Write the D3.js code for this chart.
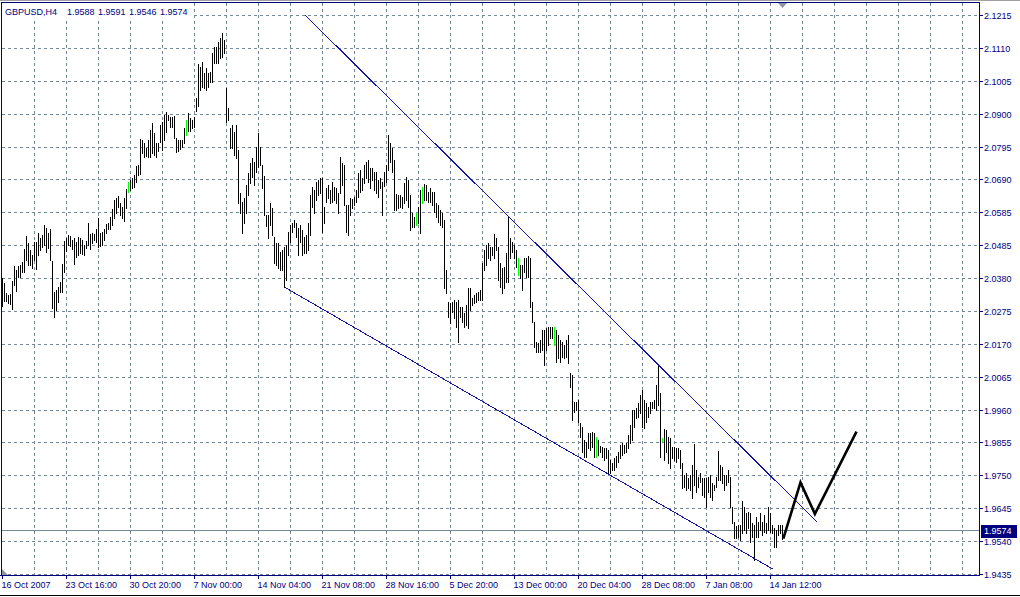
<!DOCTYPE html>
<html><head><meta charset="utf-8">
<script src="https://cdn.jsdelivr.net/npm/d3@7"></script>
<style>
body{margin:0;background:#fff;overflow:hidden;}
svg{display:block;}
text{font-family:"Liberation Sans",Arial,sans-serif;font-size:9px;fill:#000080;}
</style>
</head><body><svg id="c" width="1020" height="597"></svg>
<script>
const symbol = "GBPUSD,H4";
const quote = ["1.9588","1.9591","1.9546","1.9574"];
const lastPrice = 1.9574;

const highs = [
2.0378,2.0362,2.0330,2.0323,2.0327,2.0368,2.0416,2.0403,2.0416,2.0419,
2.0429,2.0470,2.0511,2.0489,2.0467,2.0451,2.0492,2.0492,2.0521,2.0505,
2.0514,2.0546,2.0537,2.0521,2.0534,2.0432,2.0333,2.0339,2.0349,2.0365,
2.0422,2.0495,2.0505,2.0514,2.0511,2.0499,2.0505,2.0492,2.0508,2.0505,
2.0499,2.0483,2.0495,2.0553,2.0518,2.0521,2.0518,2.0534,2.0569,2.0521,
2.0524,2.0534,2.0550,2.0553,2.0572,2.0597,2.0626,2.0632,2.0639,2.0616,
2.0604,2.0632,2.0661,2.0683,2.0690,2.0696,2.0706,2.0734,2.0737,2.0820,
2.0817,2.0808,2.0792,2.0817,2.0849,2.0871,2.0839,2.0808,2.0808,2.0865,
2.0874,2.0897,2.0906,2.0897,2.0890,2.0890,2.0894,2.0823,2.0817,2.0817,
2.0817,2.0855,2.0881,2.0903,2.0887,2.0881,2.0890,2.0951,2.1059,2.1050,
2.1065,2.1030,2.1046,2.1030,2.1034,2.1094,2.1113,2.1113,2.1129,2.1142,
2.1158,2.1135,2.0983,2.0919,2.0855,2.0865,2.0843,2.0865,2.0785,2.0648,
2.0620,2.0632,2.0674,2.0712,2.0744,2.0760,2.0747,2.0795,2.0839,2.0795,
2.0737,2.0702,2.0578,2.0578,2.0616,2.0600,2.0508,2.0489,2.0489,2.0460,
2.0467,2.0476,2.0483,2.0524,2.0546,2.0553,2.0562,2.0553,2.0537,2.0546,
2.0530,2.0508,2.0514,2.0553,2.0642,2.0667,2.0658,2.0683,2.0690,2.0696,
2.0696,2.0604,2.0664,2.0674,2.0658,2.0683,2.0667,2.0664,2.0648,2.0763,
2.0744,2.0737,2.0610,2.0610,2.0632,2.0629,2.0636,2.0658,2.0712,2.0722,
2.0696,2.0737,2.0747,2.0753,2.0728,2.0728,2.0715,2.0715,2.0690,2.0696,
2.0683,2.0715,2.0737,2.0833,2.0808,2.0792,2.0753,2.0645,2.0642,2.0642,
2.0636,2.0680,2.0699,2.0690,2.0642,2.0585,2.0572,2.0585,2.0604,2.0658,
2.0667,2.0677,2.0674,2.0651,2.0664,2.0651,2.0651,2.0616,2.0610,2.0594,
2.0585,2.0562,2.0403,2.0301,2.0298,2.0301,2.0308,2.0301,2.0308,2.0285,
2.0285,2.0266,2.0292,2.0346,2.0346,2.0314,2.0323,2.0330,2.0333,2.0339,
2.0425,2.0467,2.0483,2.0489,2.0476,2.0476,2.0518,2.0505,2.0476,2.0425,
2.0409,2.0413,2.0457,2.0572,2.0505,2.0492,2.0483,2.0467,2.0441,2.0419,
2.0419,2.0441,2.0441,2.0448,2.0441,2.0301,2.0237,2.0174,2.0171,2.0180,
2.0212,2.0212,2.0218,2.0222,2.0222,2.0222,2.0222,2.0212,2.0196,2.0180,
2.0174,2.0164,2.0180,2.0196,2.0075,2.0069,1.9983,1.9983,1.9989,1.9916,
1.9903,1.9862,1.9855,1.9884,1.9884,1.9887,1.9884,1.9871,1.9862,1.9843,
1.9839,1.9836,1.9836,1.9830,1.9798,1.9789,1.9804,1.9811,1.9824,1.9846,
1.9852,1.9846,1.9852,1.9878,1.9910,1.9957,1.9957,1.9964,1.9980,2.0005,
2.0021,1.9989,1.9980,1.9967,1.9983,1.9983,1.9989,2.0037,2.0097,2.0011,
1.9868,1.9897,1.9894,1.9871,1.9868,1.9839,1.9839,1.9836,1.9836,1.9830,
1.9789,1.9750,1.9757,1.9741,1.9750,1.9782,1.9849,1.9766,1.9744,1.9757,
1.9741,1.9741,1.9741,1.9744,1.9750,1.9725,1.9718,1.9744,1.9827,1.9782,
1.9776,1.9750,1.9750,1.9766,1.9744,1.9648,1.9601,1.9588,1.9591,1.9591,
1.9668,1.9648,1.9629,1.9633,1.9629,1.9598,1.9591,1.9617,1.9601,1.9629,
1.9601,1.9623,1.9598,1.9648,1.9629,1.9591,1.9582,1.9575,1.9591,1.9591,
1.9591];

const lows = [
2.0288,2.0304,2.0304,2.0298,2.0295,2.0279,2.0355,2.0336,2.0381,2.0381,
2.0397,2.0397,2.0435,2.0419,2.0419,2.0409,2.0435,2.0406,2.0451,2.0467,
2.0476,2.0483,2.0460,2.0473,2.0435,2.0282,2.0253,2.0276,2.0301,2.0333,
2.0333,2.0397,2.0464,2.0483,2.0479,2.0470,2.0422,2.0444,2.0451,2.0457,
2.0454,2.0451,2.0473,2.0483,2.0470,2.0489,2.0499,2.0492,2.0476,2.0479,
2.0483,2.0499,2.0521,2.0534,2.0534,2.0546,2.0569,2.0585,2.0604,2.0578,
2.0569,2.0559,2.0600,2.0651,2.0658,2.0664,2.0667,2.0683,2.0706,2.0709,
2.0776,2.0763,2.0766,2.0763,2.0763,2.0776,2.0769,2.0763,2.0782,2.0811,
2.0785,2.0817,2.0843,2.0881,2.0858,2.0858,2.0823,2.0779,2.0782,2.0788,
2.0795,2.0808,2.0833,2.0846,2.0846,2.0855,2.0858,2.0909,2.0925,2.0976,
2.0986,2.0983,2.0976,2.0986,2.1002,2.1002,2.1062,2.1062,2.1062,2.1078,
2.1081,2.1094,2.0874,2.0881,2.0792,2.0792,2.0769,2.0760,2.0616,2.0585,
2.0521,2.0553,2.0585,2.0642,2.0680,2.0699,2.0674,2.0715,2.0731,2.0737,
2.0664,2.0578,2.0543,2.0505,2.0546,2.0514,2.0425,2.0419,2.0409,2.0403,
2.0403,2.0349,2.0371,2.0451,2.0492,2.0524,2.0540,2.0508,2.0451,2.0492,
2.0451,2.0457,2.0457,2.0467,2.0514,2.0604,2.0585,2.0626,2.0642,2.0648,
2.0524,2.0553,2.0620,2.0632,2.0616,2.0620,2.0626,2.0616,2.0585,2.0648,
2.0674,2.0610,2.0524,2.0514,2.0578,2.0600,2.0610,2.0620,2.0636,2.0651,
2.0658,2.0680,2.0696,2.0683,2.0664,2.0690,2.0658,2.0648,2.0636,2.0664,
2.0578,2.0671,2.0683,2.0722,2.0747,2.0715,2.0594,2.0594,2.0600,2.0604,
2.0600,2.0616,2.0626,2.0604,2.0530,2.0540,2.0540,2.0546,2.0553,2.0521,
2.0616,2.0626,2.0626,2.0620,2.0620,2.0610,2.0588,2.0572,2.0556,2.0546,
2.0540,2.0346,2.0330,2.0253,2.0234,2.0269,2.0250,2.0222,2.0174,2.0253,
2.0237,2.0222,2.0228,2.0218,2.0276,2.0292,2.0298,2.0301,2.0308,2.0308,
2.0308,2.0403,2.0419,2.0441,2.0435,2.0451,2.0441,2.0467,2.0371,2.0349,
2.0330,2.0346,2.0365,2.0365,2.0441,2.0460,2.0441,2.0413,2.0387,2.0378,
2.0339,2.0397,2.0381,2.0381,2.0285,2.0237,2.0158,2.0142,2.0142,2.0142,
2.0148,2.0101,2.0148,2.0164,2.0187,2.0187,2.0164,2.0110,2.0123,2.0110,
2.0126,2.0123,2.0126,2.0107,2.0030,1.9925,1.9951,1.9957,1.9919,1.9871,
1.9824,1.9808,1.9808,1.9836,1.9830,1.9839,1.9808,1.9808,1.9814,1.9824,
1.9808,1.9798,1.9804,1.9757,1.9757,1.9766,1.9766,1.9776,1.9792,1.9804,
1.9814,1.9820,1.9824,1.9836,1.9852,1.9862,1.9903,1.9932,1.9935,1.9948,
1.9903,1.9900,1.9919,1.9935,1.9948,1.9964,1.9964,1.9957,1.9973,1.9808,
1.9859,1.9798,1.9824,1.9789,1.9773,1.9804,1.9798,1.9792,1.9804,1.9773,
1.9709,1.9712,1.9703,1.9709,1.9703,1.9677,1.9718,1.9696,1.9712,1.9728,
1.9687,1.9680,1.9648,1.9696,1.9680,1.9671,1.9703,1.9712,1.9734,1.9734,
1.9725,1.9703,1.9718,1.9728,1.9648,1.9598,1.9550,1.9550,1.9553,1.9543,
1.9566,1.9575,1.9566,1.9582,1.9537,1.9553,1.9480,1.9553,1.9553,1.9575,
1.9559,1.9569,1.9566,1.9575,1.9569,1.9566,1.9521,1.9521,1.9559,1.9566,
1.9546];

const greenBars = [63, 92, 207, 210, 258, 276, 297, 330];

const priceTickLabels = ["1.9435","1.9540","1.9645","1.9750","1.9855","1.9960","2.0065","2.0170","2.0275",
  "2.0380","2.0485","2.0585","2.0690","2.0795","2.0900","2.1005","2.1110","2.1215"];

const timeTickBars = [0, 32, 64, 96, 128, 160, 192, 224, 256, 288, 320, 352, 384];
const timeTickLabels = ["16 Oct 2007","23 Oct 16:00","30 Oct 20:00","7 Nov 00:00","14 Nov 04:00","21 Nov 08:00",
  "28 Nov 16:00","5 Dec 20:00","13 Dec 00:00","20 Dec 04:00","28 Dec 08:00","7 Jan 08:00","14 Jan 12:00"];

const upperTrend = [{bar: 151.5, price: 2.1215}, {bar: 407.5, price: 1.9601}];
const lowerTrend = [{bar: 141.25, price: 2.0349}, {bar: 385.5, price: 1.9451}];
const projection = [{bar: 390.4, price: 1.9549}, {bar: 399, price: 1.9728}, {bar: 406.2, price: 1.9628}, {bar: 427, price: 1.9890}];

// ---------------- drawing ----------------
(function draw() {
const svg = d3.select("#c");
const L = 1, T = 2, R = 979, B = 575;
const pMin = +priceTickLabels[0], pMax = +priceTickLabels[priceTickLabels.length - 1];
const x = d3.scaleLinear().domain([0, highs.length - 1]).range([2.5, 2.5 + 2 * (highs.length - 1)]);
const y = d3.scaleLinear().domain([pMin, pMax]).range([574.5, 15.5]);
const gridColor = "#778899", navy = "#000080";

svg.append("rect").attr("width", 1020).attr("height", 597).attr("fill", "#fff");

svg.append("defs").append("clipPath").attr("id", "plot")
  .append("rect").attr("x", L + 1).attr("y", T + 1).attr("width", R - L - 1).attr("height", B - T - 1);

// grid
const gGrid = svg.append("g").attr("shape-rendering", "crispEdges");
const priceGrid = priceTickLabels.map((d, k) => pMin + k * (pMax - pMin) / (priceTickLabels.length - 1));
gGrid.selectAll("line.h").data(priceGrid).join("line").attr("class", "h")
  .attr("x1", L + 1).attr("x2", R).attr("y1", d => y(d)).attr("y2", d => y(d))
  .attr("stroke", gridColor).attr("stroke-dasharray", "3,3");
const vBars = d3.range(16, 481, 16);
gGrid.selectAll("line.v").data(vBars).join("line").attr("class", "v")
  .attr("x1", d => x(d)).attr("x2", d => x(d)).attr("y1", T + 1).attr("y2", B - 1)
  .attr("stroke", gridColor).attr("stroke-dasharray", "3,3");

// title background
svg.append("rect").attr("x", L + 1).attr("y", T + 1).attr("width", 190).attr("height", 15).attr("fill", "#fff");

// current price line
svg.append("line").attr("shape-rendering", "crispEdges")
  .attr("x1", L + 1).attr("x2", R).attr("y1", y(lastPrice)).attr("y2", y(lastPrice))
  .attr("stroke", gridColor);

// bars
const data = highs.map((h, i) => ({i, h, l: lows[i]}));
const gBars = svg.append("g").attr("clip-path", "url(#plot)").attr("shape-rendering", "crispEdges");
gBars.selectAll("rect").data(data).join("rect")
  .attr("x", d => x(d.i) - 0.5).attr("width", 1)
  .attr("y", d => Math.round(y(d.h) - 0.5))
  .attr("height", d => Math.max(1, Math.round(y(d.l) - y(d.h)) + 1))
  .attr("fill", d => greenBars.includes(d.i) ? "#00ff00" : "#000");

// trendlines
const tl = d3.line().x(d => x(d.bar)).y(d => y(d.price));
const gObj = svg.append("g").attr("clip-path", "url(#plot)");
[upperTrend, lowerTrend].forEach(t => {
  gObj.append("path").attr("d", tl(t)).attr("fill", "none")
    .attr("stroke", "#1414a8").attr("stroke-width", 1).attr("shape-rendering", "crispEdges");
});
gObj.append("path").attr("d", tl(projection)).attr("fill", "none")
  .attr("stroke", "#000").attr("stroke-width", 2.6).attr("stroke-linejoin", "miter");

// frame & axes
const gAx = svg.append("g").attr("shape-rendering", "crispEdges");
gAx.append("line").attr("x1", 0).attr("x2", 1020).attr("y1", 0.5).attr("y2", 0.5).attr("stroke", "#a0a0a0");
gAx.append("line").attr("x1", L + 0.5).attr("x2", L + 0.5).attr("y1", T).attr("y2", B + 1).attr("stroke", navy);
gAx.append("line").attr("x1", L).attr("x2", R + 1).attr("y1", T + 0.5).attr("y2", T + 0.5).attr("stroke", navy);
gAx.append("line").attr("x1", R + 0.5).attr("x2", R + 0.5).attr("y1", T).attr("y2", B + 1).attr("stroke", navy);
gAx.append("line").attr("x1", 0).attr("x2", R + 1).attr("y1", B + 0.5).attr("y2", B + 0.5).attr("stroke", navy);
gAx.append("line").attr("x1", 0).attr("x2", 1020).attr("y1", 595.5).attr("y2", 595.5).attr("stroke", "#000");

// price axis
priceGrid.forEach((p, k) => {
  gAx.append("line").attr("x1", R + 1).attr("x2", R + 4).attr("y1", y(p)).attr("y2", y(p)).attr("stroke", navy);
  svg.append("text").attr("x", R + 5).attr("y", y(p) + 3.5).text(priceTickLabels[k]);
});

// time axis
timeTickBars.forEach((b, k) => {
  gAx.append("line").attr("x1", x(b)).attr("x2", x(b)).attr("y1", B + 1).attr("y2", B + 4).attr("stroke", navy);
  svg.append("text").attr("x", x(b) - 1).attr("y", 588).text(timeTickLabels[k]);
});

// current price label
const py = y(lastPrice);
svg.append("rect").attr("x", R + 2).attr("y", Math.round(py) - 6).attr("width", 36).attr("height", 13)
  .attr("fill", navy).attr("shape-rendering", "crispEdges");
svg.append("text").attr("x", R + 5).attr("y", py + 3.5).style("fill", "#fff").text(lastPrice.toFixed(4));

// title
svg.append("text").attr("x", 5).attr("y", 15).text(symbol);
const qx = [67, 98, 129, 160];
quote.forEach((q, k) => svg.append("text").attr("x", qx[k]).attr("y", 15).text(q));

// markers
const lastX = x(highs.length - 1);
svg.append("path").attr("d", `M${lastX - 4.5},3 L${lastX + 4.5},3 L${lastX},8 Z`).attr("fill", "#8c97a3");
svg.append("path").attr("d", `M2,569 L2,575 L8,575 Z`).attr("fill", "#8c97a3");
})();
</script>
</body></html>
